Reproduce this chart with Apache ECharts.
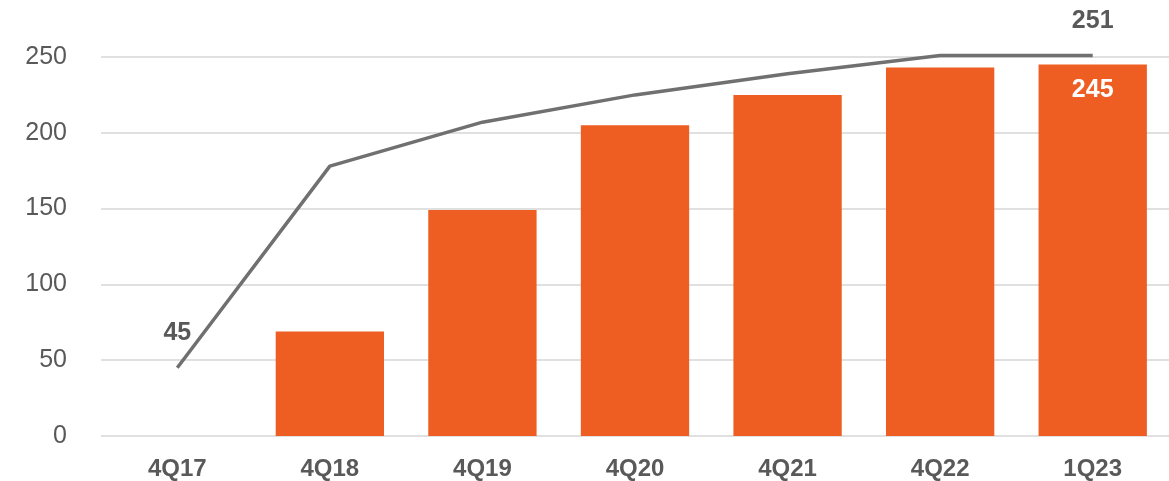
<!DOCTYPE html>
<html>
<head>
<meta charset="utf-8">
<script src="https://cdn.jsdelivr.net/npm/echarts@6/dist/echarts.min.js"></script>
<style>
html,body{margin:0;padding:0;background:#fff;}
#c{width:1169px;height:481px;}
</style>
</head>
<body>
<div id="c"></div>
<script>
var categories = ['4Q17','4Q18','4Q19','4Q20','4Q21','4Q22','1Q23'];
var barValues = [null, 69, 149, 205, 225, 243, 245];
var lineValues = [45, 178, 207, 225, 239, 251, 251];
var yTicks = [0, 50, 100, 150, 200, 250];

var chart = echarts.init(document.getElementById('c'));
var font = '"Liberation Sans", Arial, sans-serif';

var barData = barValues.map(function(v, i){
  if (i === barValues.length - 1) {
    return {value: v, label: {show: true, position: 'insideTop', distance: 13, color: '#ffffff', fontWeight: 'bold', fontSize: 25, fontFamily: font}};
  }
  return v;
});
var lineData = lineValues.map(function(v, i){
  if (i === 0 || i === lineValues.length - 1) {
    return {value: v, label: {show: true, position: 'top', distance: 22, color: '#595959', fontWeight: 'bold', fontSize: 25, fontFamily: font}};
  }
  return v;
});

chart.setOption({
  animation: false,
  grid: {left: 101, right: 0, top: 57, bottom: 44, containLabel: false},
  xAxis: {
    type: 'category',
    data: categories,
    axisLine: {show: false},
    axisTick: {show: false},
    axisLabel: {color: '#595959', fontWeight: 'bold', fontSize: 24, fontFamily: font, margin: 21}
  },
  yAxis: {
    type: 'value',
    min: yTicks[0],
    max: yTicks[yTicks.length - 1],
    interval: 50,
    axisLine: {show: false},
    axisTick: {show: false},
    axisLabel: {color: '#595959', fontSize: 25, fontFamily: font, margin: 34},
    splitLine: {lineStyle: {color: '#e0e0e0', width: 2}}
  },
  series: [
    {
      type: 'bar',
      data: barData,
      barWidth: '71%',
      itemStyle: {color: '#EE5E22'},
      label: {show: false}
    },
    {
      type: 'line',
      data: lineData,
      clip: false,
      symbol: 'circle',
      symbolSize: 0.01,
      showSymbol: true,
      itemStyle: {color: '#707070', opacity: 1},
      lineStyle: {color: '#707070', width: 3.5},
      label: {show: false}
    }
  ]
});
</script>
</body>
</html>
